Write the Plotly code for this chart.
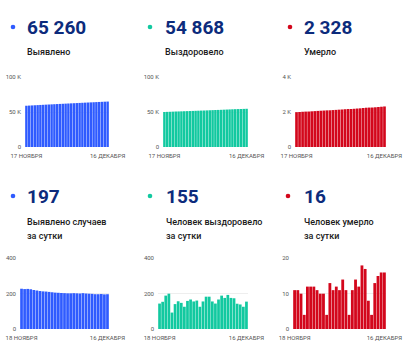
import plotly.graph_objects as go

# ---------------- data ----------------
dates_cum = ["2020-11-17", "2020-11-18", "2020-11-19", "2020-11-20", "2020-11-21", "2020-11-22",
             "2020-11-23", "2020-11-24", "2020-11-25", "2020-11-26", "2020-11-27", "2020-11-28",
             "2020-11-29", "2020-11-30", "2020-12-01", "2020-12-02", "2020-12-03", "2020-12-04",
             "2020-12-05", "2020-12-06", "2020-12-07", "2020-12-08", "2020-12-09", "2020-12-10",
             "2020-12-11", "2020-12-12", "2020-12-13", "2020-12-14", "2020-12-15", "2020-12-16"]
dates_daily = dates_cum[1:]

detected_total = [59241, 59469, 59695, 59922, 60147, 60368, 60586, 60801, 61014, 61226,
                  61436, 61644, 61850, 62055, 62259, 62462, 62664, 62866, 63069, 63271,
                  63472, 63675, 63876, 64076, 64275, 64472, 64669, 64867, 65063, 65260]
recovered_total = [50287, 50431, 50585, 50774, 50974, 51067, 51208, 51365, 51513, 51639,
                   51798, 51965, 52121, 52282, 52408, 52564, 52747, 52930, 53086, 53230,
                   53397, 53586, 53762, 53955, 54131, 54305, 54448, 54587, 54713, 54868]
deaths_total = [2001, 2012, 2023, 2033, 2037, 2049, 2061, 2073, 2084, 2094,
                2104, 2108, 2121, 2132, 2144, 2155, 2169, 2180, 2184, 2195,
                2209, 2221, 2239, 2256, 2264, 2268, 2281, 2296, 2312, 2328]

detected_daily = [228, 226, 227, 225, 221, 218, 215, 213, 212, 210, 208, 206, 205, 204, 203,
                  202, 202, 203, 202, 201, 203, 201, 200, 199, 197, 197, 198, 196, 197]
recovered_daily = [144, 154, 189, 200, 93, 141, 157, 148, 126, 159, 167, 156, 161, 126, 156,
                   183, 183, 156, 144, 167, 189, 176, 193, 176, 174, 143, 139, 126, 155]
deaths_daily = [11, 11, 10, 4, 12, 12, 12, 11, 10, 10, 4, 13, 11, 12, 11,
                14, 11, 4, 11, 14, 12, 18, 17, 8, 4, 13, 15, 16, 16]

headline = ["65 260", "54 868", "2 328", "197", "155", "16"]
labels = [["Выявлено"], ["Выздоровело"], ["Умерло"],
          ["Выявлено случаев", "за сутки"],
          ["Человек выздоровело", "за сутки"],
          ["Человек умерло", "за сутки"]]

ytick_vals = [[0, 50000, 100000], [0, 50000, 100000], [0, 2000, 4000],
              [0, 200, 400], [0, 200, 400], [0, 10, 20]]
ytick_text = [["0", "50 K", "100 K"], ["0", "50 K", "100 K"], ["0", "2 K", "4 K"],
              ["0", "200", "400"], ["0", "200", "400"], ["0", "10", "20"]]
xtick_text_cum = ["17 НОЯБРЯ", "16 ДЕКАБРЯ"]
xtick_text_daily = ["18 НОЯБРЯ", "16 ДЕКАБРЯ"]

# ---------------- style ----------------
W, H = 418, 355
BLUE = "#2f5bff"
GREEN = "#12c9a0"
RED = "#d3071c"
NAVY = "#0c2b7c"
colors = [BLUE, GREEN, RED, BLUE, GREEN, RED]

series = [(dates_cum, detected_total), (dates_cum, recovered_total), (dates_cum, deaths_total),
          (dates_daily, detected_daily), (dates_daily, recovered_daily), (dates_daily, deaths_daily)]

# pixel layouts: (x0, x1) of plot, (ytop, ybottom)
xdom_px = [(25, 109), (163, 248), (295, 386), (20, 109), (158, 248), (293, 386)]
ydom_px = [(77, 147)] * 3 + [(258, 329)] * 3
text_x = [25, 163, 302, 25, 164, 302]
dot_x = [13, 150, 290, 13, 150, 288]
num_y = [27, 27, 27, 196, 196, 196]
lab_y = [[52], [52], [52], [222, 236], [222, 236], [222, 236]]

TICKFONT = dict(size=6, color="#555555", family="Roboto")

fig = go.Figure()
for i in range(6):
    xs, ys = series[i]
    n = "" if i == 0 else str(i + 1)
    fig.add_trace(go.Bar(x=xs, y=ys, marker=dict(color=colors[i], line=dict(width=0)),
                         xaxis="x" + n, yaxis="y" + n, showlegend=False, hoverinfo="x+y"))
    x0, x1 = xdom_px[i]
    yt, yb = ydom_px[i]
    fig.update_layout(**{
        "xaxis" + n: dict(domain=[x0 / W, x1 / W], anchor="y" + n, type="category",
                          tickvals=[xs[0], xs[-1]],
                          ticktext=xtick_text_cum if i < 3 else xtick_text_daily,
                          tickangle=0, automargin=False, ticklabelstandoff=4,
                          showgrid=False, showline=False, zeroline=False, ticks="",
                          tickfont=TICKFONT, fixedrange=True),
        "yaxis" + n: dict(domain=[1 - yb / H, 1 - yt / H], anchor="x" + n,
                          range=[0, ytick_vals[i][-1] * 1.005], automargin=False,
                          tickvals=ytick_vals[i], ticktext=ytick_text[i],
                          showgrid=True, gridcolor="#eeeeee", gridwidth=1,
                          zeroline=False, showline=False, ticks="", ticklabelstandoff=3,
                          tickfont=TICKFONT, fixedrange=True),
    })
    # dot
    fig.add_shape(type="circle", xref="paper", yref="paper",
                  x0=(dot_x[i] - 2.3) / W, x1=(dot_x[i] + 2.3) / W,
                  y0=1 - (num_y[i] + 2.3) / H, y1=1 - (num_y[i] - 2.3) / H,
                  fillcolor=colors[i], line=dict(width=0))
    # number
    fig.add_annotation(text="<b>" + headline[i] + "</b>", xref="paper", yref="paper",
                       x=text_x[i] / W, y=1 - num_y[i] / H, xanchor="left", yanchor="middle",
                       showarrow=False, font=dict(size=19, color=NAVY, family="Roboto"))
    for line, ly in zip(labels[i], lab_y[i]):
        fig.add_annotation(text=line, xref="paper", yref="paper",
                           x=text_x[i] / W, y=1 - ly / H, xanchor="left", yanchor="middle",
                           showarrow=False,
                           font=dict(size=9, color="#1a1a1a", family="Roboto", weight=500))

fig.update_layout(template="none", width=W, height=H, margin=dict(l=0, r=0, t=0, b=0, pad=0),
                  paper_bgcolor="white", plot_bgcolor="white", bargap=0.12,
                  font=dict(family="Roboto"))

fig.write_html("out.html", config={"displayModeBar": False},
               post_script="document.body.style.margin='0';document.body.style.padding='0';")
